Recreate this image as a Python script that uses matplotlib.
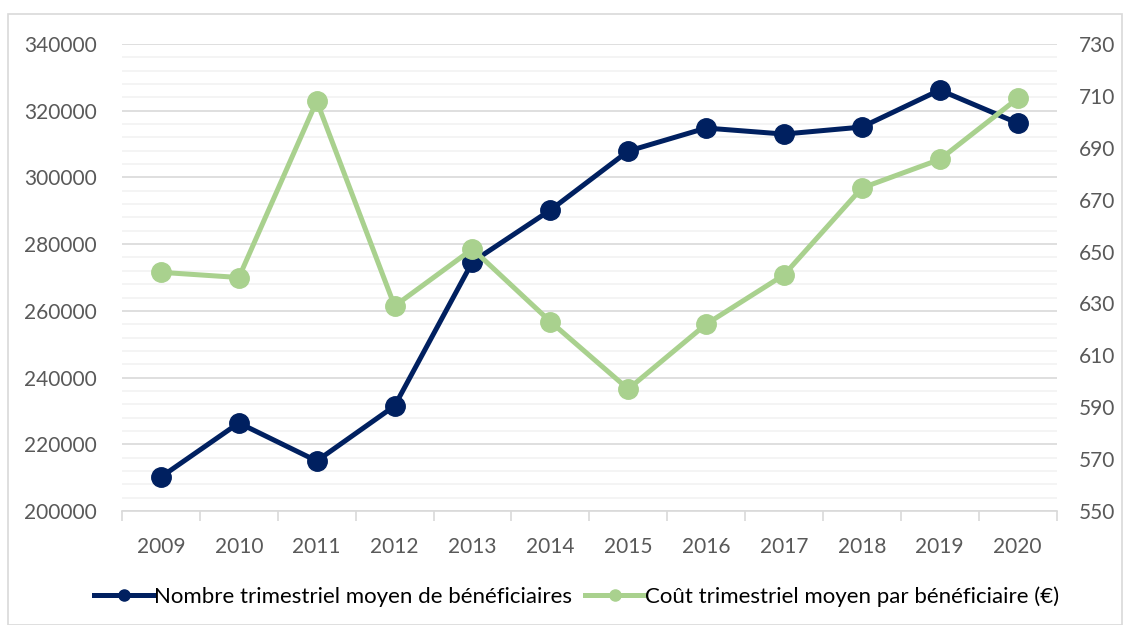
import matplotlib.pyplot as plt
from matplotlib.ticker import MultipleLocator
from matplotlib.lines import Line2D
from matplotlib.patches import Rectangle

plt.rcParams['font.family'] = ['Lato', 'DejaVu Sans']

years = ["2009", "2010", "2011", "2012", "2013", "2014", "2015", "2016",
         "2017", "2018", "2019", "2020"]
beneficiaires = [210200, 226400, 215000, 231500, 274700, 290200, 307900,
                 314800, 313000, 315100, 326200, 316300]
cout = [642, 640, 708, 629, 651, 623, 597, 622, 641, 674.5, 685.5, 709]
cout_ticks = list(range(550, 731, 20))

navy = "#002060"
green = "#A9D18E"
grey_txt = "#595959"

fig = plt.figure(figsize=(11.3, 6.25), dpi=100)
fig.patches.append(Rectangle((8 / 1130, 0), 1 - 16 / 1130, 1 - 14 / 625,
                             transform=fig.transFigure, fill=False,
                             edgecolor="#D9D9D9", linewidth=1.2))
ax = fig.add_axes([0.108, 0.1824, 0.827, 0.7472])
x = list(range(len(years)))

ax.set_xlim(-0.5, len(years) - 0.5)
ax.set_ylim(200000, 340000)
ax.yaxis.set_major_locator(MultipleLocator(20000))
ax.yaxis.set_minor_locator(MultipleLocator(4000))
ax.grid(axis="y", which="major", color="#D9D9D9", linewidth=1.2)
ax.grid(axis="y", which="minor", color="#F2F2F2", linewidth=1.2)
ax.set_axisbelow(True)
for s in ["top", "left", "right"]:
    ax.spines[s].set_visible(False)
ax.spines["bottom"].set_color("#D9D9D9")
ax.spines["bottom"].set_linewidth(1.2)

ax.set_xticks(x)
ax.set_xticklabels(years)
ax.set_xticks([i - 0.5 for i in range(len(years) + 1)], minor=True)
ax.tick_params(axis="x", which="major", length=0, pad=19, labelsize=15,
               labelcolor=grey_txt)
ax.tick_params(axis="x", which="minor", length=7, color="#D9D9D9", width=1.2)
ax.tick_params(axis="y", which="both", length=0, labelsize=15,
               labelcolor=grey_txt, pad=18)

ax.plot(x, beneficiaires, color=navy, linewidth=3.6, marker="o",
        markersize=14, zorder=3)

ax2 = ax.twinx()
ax2.set_ylim(550, 730)
ax2.set_yticks(cout_ticks)
for s in ["top", "left", "right", "bottom"]:
    ax2.spines[s].set_visible(False)
ax2.tick_params(axis="y", length=0, labelsize=15, labelcolor=grey_txt, pad=16)
ax2.plot(x, cout, color=green, linewidth=3.6, marker="o", markersize=14,
         zorder=3)

handles = [
    Line2D([], [], color=navy, linewidth=3.6, marker="o", markersize=8),
    Line2D([], [], color=green, linewidth=3.6, marker="o", markersize=8),
]
labels = ["Nombre trimestriel moyen de bénéficiaires",
          "Coût trimestriel moyen par bénéficiaire (€)"]
fig.legend(handles, labels, loc="center", bbox_to_anchor=(0.51, 0.046),
           ncol=2, frameon=False, fontsize=16, handlelength=2.7,
           handletextpad=0.0, columnspacing=0.6)

fig.savefig("out.png", dpi=100)
